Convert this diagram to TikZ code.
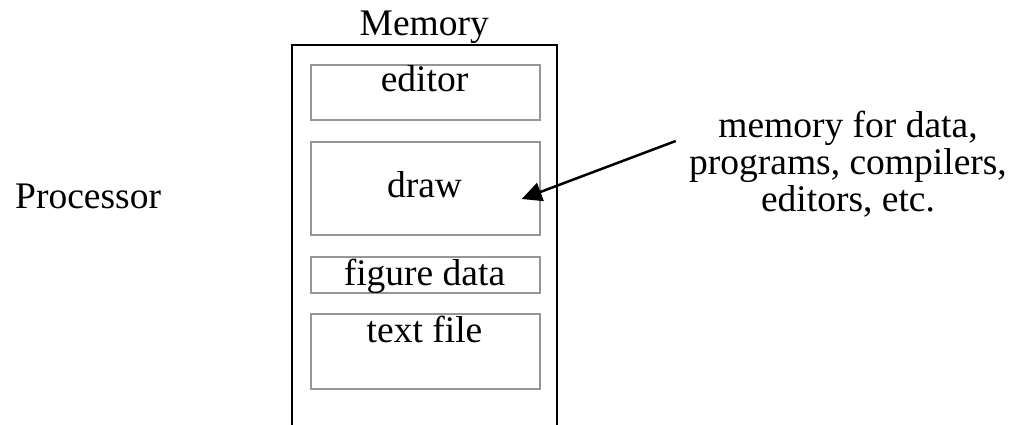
\documentclass[tikz,border=0pt]{standalone}
\usepackage{fontspec}
\setmainfont{Liberation Serif}
\usetikzlibrary{arrows.meta}
\definecolor{boxgray}{RGB}{150,150,150}
\tikzset{
  outerline/.style={draw=black, line width=2.2pt},
  membox/.style={draw=boxgray, line width=2pt, anchor=north west, inner sep=0pt},
  lbl/.style={anchor=base, inner sep=0pt, font=\fontsize{37.5}{37.5}\selectfont},
  pointer/.style={line width=2.5pt, -{Triangle[length=20pt,width=19pt]}}
}
\begin{document}
\begin{tikzpicture}[x=1pt,y=-1pt]
\useasboundingbox (0,0) rectangle (1012,425);
% outer memory box (open at bottom)
\draw[outerline] (291.7,426) -- (291.7,44.7) -- (557,44.7) -- (557,426);
\node[lbl] (memlabel) at (424.3,36) {Memory};
% inner boxes
\node[membox, minimum width=229pt, minimum height=55pt] (editor) at (310,64) {};
\node[membox, minimum width=229pt, minimum height=93pt] (draw) at (310,141) {};
\node[membox, minimum width=229pt, minimum height=36pt] (figdata) at (310,256) {};
\node[membox, minimum width=229pt, minimum height=75pt] (textfile) at (310,313) {};
\node[lbl] (editorlbl) at (424.5,92) {editor};
\node[lbl] (drawlbl) at (424.5,197) {draw};
\node[lbl] (figlbl) at (424.5,285) {figure data};
\node[lbl] (textlbl) at (424.5,342) {text file};
% processor
\node[lbl, anchor=base west] (proc) at (15,208) {Processor};
% note text
\node[lbl] (note1) at (848,138) {memory for data,};
\node[lbl] (note2) at (848,175) {programs, compilers,};
\node[lbl] (note3) at (848,211) {editors, etc.};
% arrow
\coordinate (src) at (675.7,141);
\coordinate (tip) at (521.7,199);
\draw[pointer] (src) -- (tip);
\end{tikzpicture}
\end{document}
